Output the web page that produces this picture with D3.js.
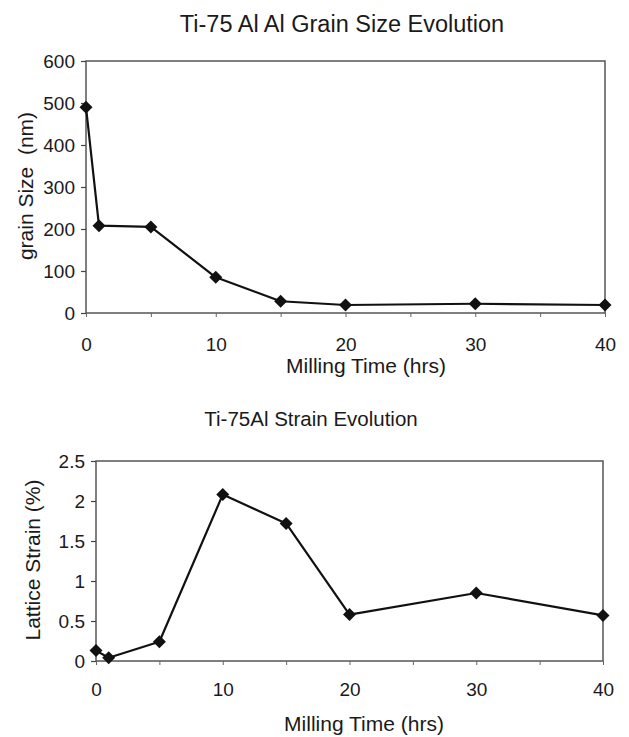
<!DOCTYPE html>
<html>
<head>
<meta charset="utf-8">
<script src="https://cdn.jsdelivr.net/npm/d3@7"></script>
<style>
  html, body { margin: 0; padding: 0; background: #fff; }
  svg { display: block; font-family: "Liberation Sans", Arial, sans-serif; }
  text { fill: #1a1a1a; }
</style>
</head>
<body>
<svg id="chart" width="629" height="737"></svg>
<script>
// ---- Data ----
const millingHours = [0, 1, 5, 10, 15, 20, 30, 40];
const grainSizeNm = [490, 208, 205, 85, 28, 19, 22, 19];
const latticeStrainPct = [0.13, 0.04, 0.24, 2.08, 1.72, 0.58, 0.85, 0.57];
const xTickLabels = [0, 10, 20, 30, 40];
const xMinorTicks = [0, 5, 10, 15, 20, 25, 30, 35, 40];
const grainTicks = [0, 100, 200, 300, 400, 500, 600];
const strainTicks = [0, 0.5, 1, 1.5, 2, 2.5];

const svg = d3.select("#chart");

function diamond(r) {
  return `M0,${-r}L${r},0L0,${r}L${-r},0Z`;
}

function panel(opt) {
  const g = svg.append("g");
  const x = d3.scaleLinear().domain([0, 40]).range([opt.left, opt.right]);
  const y = d3.scaleLinear().domain(opt.yDomain).range([opt.bottom, opt.top]);

  // title
  g.append("text")
    .attr("x", opt.titleX).attr("y", opt.titleY)
    .attr("text-anchor", "middle")
    .style("font-size", opt.titleSize + "px")
    .text(opt.title);

  // frame
  g.append("rect")
    .attr("x", opt.left).attr("y", opt.top)
    .attr("width", opt.right - opt.left).attr("height", opt.bottom - opt.top)
    .attr("fill", "none").attr("stroke", "#555").attr("stroke-width", 1.5);

  // y axis ticks & labels
  const yAxis = d3.axisLeft(y).tickValues(opt.yTicks).tickSize(5).tickPadding(6)
    .tickFormat(d => String(d));
  const ya = g.append("g").attr("transform", `translate(${opt.left},0)`).call(yAxis);
  ya.select(".domain").remove();
  ya.selectAll("line").attr("stroke", "#444").attr("stroke-width", 1.2);
  ya.selectAll("text").style("font-size", "19px").attr("fill", "#1a1a1a")
    .attr("dy", "0.36em");

  // x axis minor ticks
  const xAxisTicks = d3.axisBottom(x).tickValues(xMinorTicks).tickSize(4).tickFormat("");
  const xa = g.append("g").attr("transform", `translate(0,${opt.bottom})`).call(xAxisTicks);
  xa.select(".domain").remove();
  xa.selectAll("line").attr("stroke", "#666").attr("stroke-width", 1);

  // x labels
  const xLab = d3.axisBottom(x).tickValues(xTickLabels).tickSize(0).tickPadding(opt.xLabelPad)
    .tickFormat(d => String(d));
  const xl = g.append("g").attr("transform", `translate(0,${opt.bottom})`).call(xLab);
  xl.select(".domain").remove();
  xl.selectAll("text").style("font-size", "19px").attr("fill", "#1a1a1a");

  // axis titles
  g.append("text")
    .attr("x", opt.xTitleX).attr("y", opt.xTitleY)
    .attr("text-anchor", "middle")
    .style("font-size", opt.axisTitleSize + "px")
    .text("Milling Time (hrs)");
  g.append("text")
    .attr("transform", `translate(${opt.yTitleX},${opt.yTitleY}) rotate(-90)`)
    .attr("text-anchor", "middle")
    .attr("dy", "0.35em")
    .style("font-size", opt.axisTitleSize + "px")
    .style("white-space", "pre")
    .attr("xml:space", "preserve")
    .text(opt.yTitle);

  // line
  const pts = millingHours.map((h, i) => [h, opt.values[i]]);
  g.append("path")
    .datum(pts)
    .attr("fill", "none").attr("stroke", "#111").attr("stroke-width", 2.2)
    .attr("stroke-linejoin", "round")
    .attr("d", d3.line().x(d => x(d[0])).y(d => y(d[1])));

  g.selectAll("path.mk").data(pts).enter().append("path")
    .attr("class", "mk")
    .attr("transform", d => `translate(${x(d[0])},${y(d[1])})`)
    .attr("d", diamond(6.5))
    .attr("fill", "#111");
}

panel({
  title: "Ti-75 Al Al Grain Size Evolution", titleX: 342, titleY: 32, titleSize: 23.5,
  left: 86, right: 605, top: 61, bottom: 313,
  yDomain: [0, 600], yTicks: grainTicks, values: grainSizeNm,
  xLabelPad: 25, xTitleX: 366, xTitleY: 373, axisTitleSize: 21,
  yTitle: "grain Size  (nm)", yTitleX: 26, yTitleY: 186
});

panel({
  title: "Ti-75Al Strain Evolution", titleX: 311, titleY: 426, titleSize: 20.5,
  left: 96, right: 603, top: 461, bottom: 661,
  yDomain: [0, 2.5], yTicks: strainTicks, values: latticeStrainPct,
  xLabelPad: 22, xTitleX: 364, xTitleY: 731, axisTitleSize: 21,
  yTitle: "Lattice Strain (%)", yTitleX: 33, yTitleY: 560
});
</script>
</body>
</html>
